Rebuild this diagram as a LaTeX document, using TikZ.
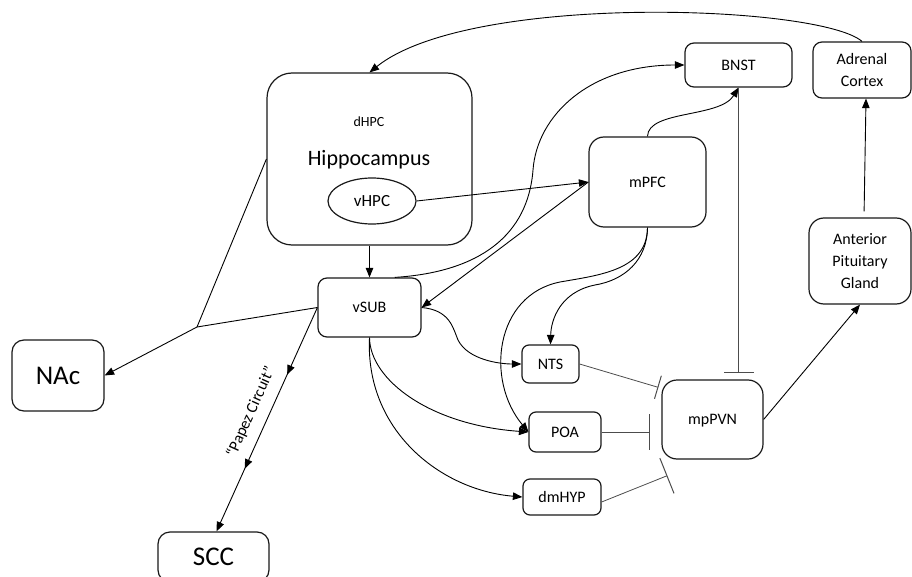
\documentclass[tikz,border=0pt]{standalone}
\usepackage{fontspec}
\setmainfont{Carlito}
\usetikzlibrary{arrows.meta,decorations.markings,shapes.geometric}
\begin{document}
\begin{tikzpicture}[x=1pt,y=-1pt,
  box/.style={draw=black!90, line width=1.2pt, rounded corners=9pt, inner sep=0pt,
    text depth=0pt, align=center, font=\fontsize{16}{21.7}\selectfont},
  arr/.style={-{Triangle[length=9.5pt,width=7.5pt]}, line width=0.9pt},
  link/.style={line width=0.9pt},
  inh/.style={-{Bar[width=#1, line width=1pt]}, line width=0.8pt, draw=black!70},
  inh/.default=36pt,
  midarrows/.style={postaction={decorate}, decoration={markings,
    mark=at position 0.30 with {\arrow{Triangle[length=9.5pt,width=7.5pt]}},
    mark=at position 0.72 with {\arrow{Triangle[length=9.5pt,width=7.5pt]}}}}
]
\useasboundingbox (0,0) rectangle (912,577);
\clip (0,0) rectangle (912,577);

% hippocampal formation
\node[box, rounded corners=25pt, minimum width=205pt, minimum height=172pt] (hpc) at (369.5,159) {};
\node[anchor=base, font=\fontsize{14}{16}\selectfont] (dhpc) at (369,127) {dHPC};
\node[anchor=base, font=\fontsize{22}{26}\selectfont] (hipp) at (369,166) {Hippocampus};
\node[draw=black!90, ellipse, line width=1.2pt, minimum width=88pt, minimum height=46pt,
  inner sep=0pt, font=\fontsize{17}{20}\selectfont] (vhpc) at (372,201) {vHPC};
\node[box, minimum width=103pt, minimum height=59pt] (vsub) at (369.5,307.5) {vSUB};

% outputs on the left
\node[box, rounded corners=12pt, minimum width=92pt, minimum height=71pt,
  font=\fontsize{27}{30}\selectfont] (nac) at (58,375.5) {NAc};
\node[box, rounded corners=12pt, minimum width=111pt, minimum height=50pt,
  font=\fontsize{27}{30}\selectfont] (scc) at (213.5,557) {SCC};

% cortex, BNST and HPA axis
\node[box, rounded corners=15pt, minimum width=117pt, minimum height=90pt] (mpfc) at (647.5,182) {mPFC};
\node[box, minimum width=107pt, minimum height=44pt] (bnst) at (738.5,65) {BNST};
\node[box, minimum width=98pt, minimum height=56pt] (adr) at (862,70) {Adrenal\\Cortex};
\node[box, rounded corners=15pt, minimum width=102pt, minimum height=86pt] (ant) at (860,261) {Anterior\\Pituitary\\Gland};
\node[box, rounded corners=15pt, minimum width=101pt, minimum height=79pt] (mppvn) at (712.5,419.5) {mpPVN};

% hypothalamic / brainstem relays
\node[box, rounded corners=7pt, minimum width=57pt, minimum height=38pt] (nts) at (550.5,364) {NTS};
\node[box, rounded corners=7pt, minimum width=72pt, minimum height=40pt] (poa) at (565,432) {POA};
\node[box, rounded corners=7pt, minimum width=78pt, minimum height=36pt] (dmhyp) at (562,497) {dmHYP};

% feedback from the adrenal cortex
\draw[arr] (adr.north) .. controls (820,5) and (470,-8) .. (hpc.north);

% hippocampal projections
\draw[arr] (hpc.south) -- (vsub.north);
\draw[arr] (vhpc.east) -- (mpfc.west);
\draw[arr] (mpfc.west) -- (vsub.east);
\draw[arr] (vsub.50) .. controls (480,272) and (528,235) .. (533,170)
  .. controls (537,115) and (590,65) .. (bnst.west);
\draw[arr] (mpfc.north) .. controls (648,110) and (720,118) .. (bnst.south);

% vSUB to hypothalamus and brainstem
\draw[arr] (vsub.east) .. controls (450,310) and (453,328) .. (458,340)
  .. controls (468,360) and (500,364) .. (nts.west);
\draw[arr] (vsub.south) .. controls (370,380) and (430,425) .. (poa.west);
\draw[arr] (vsub.south) .. controls (365,430) and (440,490) .. (dmhyp.west);

% mPFC to NTS and POA
\draw[arr] (mpfc.south) .. controls (647,260) and (625,280) .. (595,285)
  .. controls (560,292) and (551,320) .. (nts.north);
\draw[arr] (mpfc.south) .. controls (647,270) and (600,275) .. (560,282)
  .. controls (495,295) and (485,380) .. (poa.west);

% inhibitory inputs to mpPVN
\draw[inh=30pt, shorten >=6pt] (bnst.south) -- (bnst.south |- mppvn.north);
\draw[inh=24pt] (nts.east) -- ([shift={(-3pt,-8pt)}]mppvn.north west);
\draw[inh=36pt, shorten >=11pt] (poa.east) -- (poa.east -| mppvn.west);
\draw[inh=38pt] ([yshift=-5pt]dmhyp.east) -- ([shift={(6pt,-16pt)}]mppvn.south west);

% HPA axis
\draw[arr] (mppvn.east) -- (ant.south);
\draw[arr, shorten <=6pt] ([xshift=4pt]ant.north) -- ([xshift=4pt]adr.south);

% NAc and Papez circuit
\coordinate (j) at (197,327);
\draw[link] (hpc.west) -- (j);
\draw[link] (vsub.west) -- (j);
\draw[arr] (j) -- (nac.east);
\draw[arr, midarrows] (vsub.west) -- ([xshift=3pt]scc.north);
\node[rotate=65.75, font=\fontsize{16}{20}\selectfont] (papez) at (251,412) {“Papez Circuit”};
\end{tikzpicture}
\end{document}
